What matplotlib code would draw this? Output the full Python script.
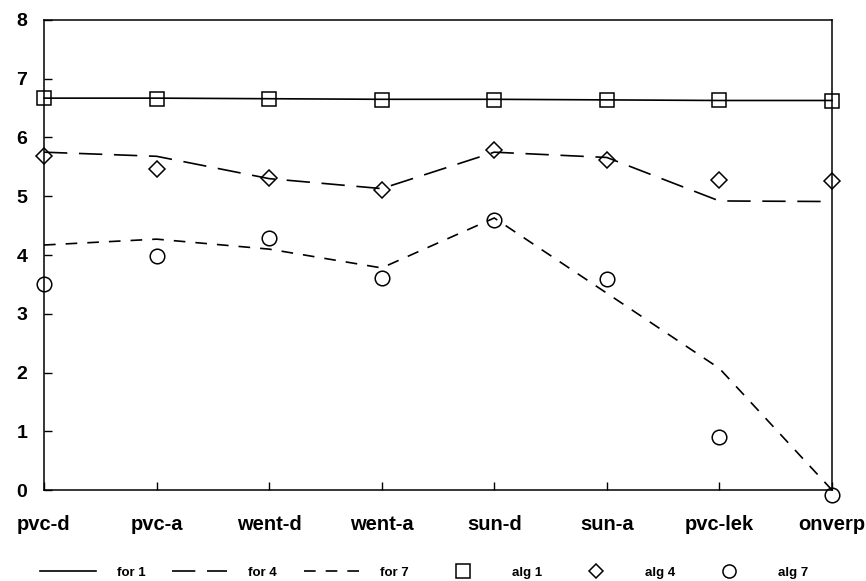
import matplotlib
matplotlib.use('Agg')
import matplotlib.pyplot as plt

plt.rcParams['font.family'] = ['Liberation Sans', 'DejaVu Sans']
plt.rcParams['font.weight'] = 'bold'

# categories on the x axis
categories = ['pvc-d', 'pvc-a', 'went-d', 'went-a', 'sun-d', 'sun-a', 'pvc-lek', 'onverp']

# fitted lines
for1 = [6.67, 6.67, 6.66, 6.65, 6.65, 6.64, 6.63, 6.63]
for4 = [5.75, 5.68, 5.30, 5.13, 5.75, 5.66, 4.92, 4.91]
for7 = [4.17, 4.27, 4.10, 3.78, 4.63, 3.35, 2.07, 0.00]

# measured points
alg1 = [6.67, 6.66, 6.65, 6.64, 6.64, 6.63, 6.63, 6.62]
alg4 = [5.68, 5.47, 5.31, 5.11, 5.78, 5.62, 5.28, 5.26]
alg7 = [3.50, 3.98, 4.29, 3.61, 4.60, 3.59, 0.91, -0.08]

fig = plt.figure(figsize=(8.66, 5.81), dpi=100)
ax = fig.add_axes([0.0508, 0.1566, 0.9099, 0.809])

x = range(len(categories))
lw = 1.2
ax.plot(x, for1, color='k', lw=lw, label='for 1', clip_on=False)
ax.plot(x, for4, color='k', lw=lw, dashes=(14, 7), label='for 4', clip_on=False)
ax.plot(x, for7, color='k', lw=lw, dashes=(7, 6), label='for 7', clip_on=False)
ax.plot(x, alg1, ls='none', marker='s', ms=10.5, mfc='none', mec='k', mew=1.1,
        label='alg 1', clip_on=False)
ax.plot(x, alg4, ls='none', marker='D', ms=8, mfc='none', mec='k', mew=1.1,
        label='alg 4', clip_on=False)
ax.plot(x, alg7, ls='none', marker='o', ms=10.5, mfc='none', mec='k', mew=1.1,
        label='alg 7', clip_on=False)

ax.set_xlim(0, len(categories) - 1)
ax.set_ylim(0, 8)
ax.set_xticks(list(x))
ax.set_xticklabels(categories, fontsize=14.5, fontweight='bold')
ax.set_yticks(range(0, 9))
ax.set_yticklabels([str(v) for v in range(0, 9)], fontsize=14, fontweight='bold')
ax.tick_params(axis='x', direction='in', length=6, width=1, pad=18)
ax.tick_params(axis='y', direction='in', length=6, width=1, pad=12)
for s in ax.spines.values():
    s.set_linewidth(1.1)

fig.legend(loc='center', bbox_to_anchor=(0.49, 0.014), ncol=6, frameon=False,
           handlelength=4.2, handletextpad=1.6, columnspacing=2.0,
           numpoints=1, markerscale=0.9, borderpad=0, prop={'weight': 'bold', 'size': 9.5})

fig.savefig('out.png', dpi=100)
